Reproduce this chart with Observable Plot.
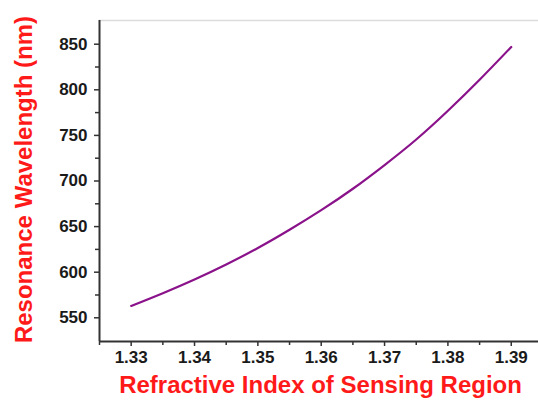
<!DOCTYPE html>
<html>
<head>
<meta charset="utf-8">
<script src="https://cdn.jsdelivr.net/npm/d3@7"></script>
<script src="https://cdn.jsdelivr.net/npm/@observablehq/plot@0.6"></script>
<style>
  html, body { margin: 0; padding: 0; background: #fff; }
  g[aria-label="x-title"] text { letter-spacing: 0.4px; }
  g[aria-label="y-title"] text { letter-spacing: 0.7px; }
</style>
</head>
<body>
<div id="chart"></div>
<script>
const refractiveIndex = [1.33, 1.335, 1.34, 1.345, 1.35, 1.355, 1.36, 1.365, 1.37, 1.375, 1.38, 1.385, 1.39];
const wavelength = [563, 577, 592, 608.5, 626.5, 646.5, 668, 691.5, 717.5, 745.5, 777, 811, 847];
const xMajorTicks = [1.33, 1.34, 1.35, 1.36, 1.37, 1.38, 1.39];
const xMinorTicks = [1.325, 1.335, 1.345, 1.355, 1.365, 1.375, 1.385];
const yMajorTicks = [550, 600, 650, 700, 750, 800, 850];
const yMinorTicks = [575, 625, 675, 725, 775, 825];
const xLabel = "Refractive Index of Sensing Region";
const yLabel = "Resonance Wavelength (nm)";

const data = refractiveIndex.map((x, i) => ({x, y: wavelength[i]}));
const xDomain = [1.325, 1.3943];
const yDomain = [524, 876];

const chart = Plot.plot({
  width: 538,
  height: 406,
  marginLeft: 99,
  marginRight: 0,
  marginTop: 20,
  marginBottom: 65,
  style: {fontFamily: "'Liberation Sans', Arial, sans-serif", fontSize: "17px", fontWeight: "bold", background: "#fff"},
  x: {domain: xDomain},
  y: {domain: yDomain},
  marks: [
    Plot.ruleY([yDomain[1]], {stroke: "#dcdcdc", strokeWidth: 1.5}),
    Plot.axisX({ticks: xMinorTicks, tickSize: 4, tickFormat: () => "", stroke: "#333", strokeWidth: 1.5, label: null}),
    Plot.axisX({ticks: xMajorTicks, tickSize: 5, tickPadding: 4, tickFormat: d3.format(".2f"), stroke: "#333", strokeWidth: 1.5, fill: "#1a1a1a", label: null}),
    Plot.axisY({ticks: yMinorTicks, tickSize: 4, tickFormat: () => "", stroke: "#333", strokeWidth: 1.5, label: null}),
    Plot.axisY({ticks: yMajorTicks, tickSize: 5, tickPadding: 7, tickFormat: d3.format("d"), stroke: "#333", strokeWidth: 1.5, fill: "#1a1a1a", label: null}),
    Plot.ruleX([xDomain[0]], {stroke: "#333", strokeWidth: 2}),
    Plot.ruleY([yDomain[0]], {stroke: "#333", strokeWidth: 2}),
    Plot.line(data, {x: "x", y: "y", curve: "natural", stroke: "#8a128a", strokeWidth: 2.2}),
    Plot.text([yLabel], {ariaLabel: "y-title", frameAnchor: "left", textAnchor: "middle", dx: -75.5, dy: -1.5, rotate: -90, fill: "#ff1a1a", fontSize: 24, fontWeight: "bold", text: d => d}),
    Plot.text([xLabel], {ariaLabel: "x-title", frameAnchor: "bottom", textAnchor: "middle", dx: 1.5, dy: 51, fill: "#ff1a1a", fontSize: 24, fontWeight: "bold", text: d => d})
  ]
});
document.getElementById("chart").appendChild(chart);
</script>
</body>
</html>
